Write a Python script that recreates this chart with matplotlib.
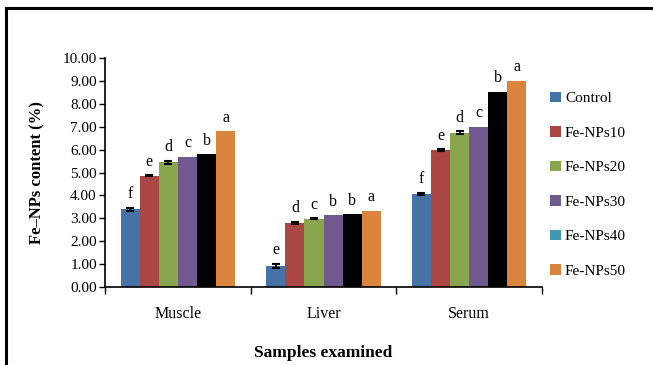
import matplotlib
matplotlib.use("Agg")
import numpy as np
import matplotlib.pyplot as plt
from matplotlib.patches import Patch
from matplotlib.lines import Line2D

samples = ["Muscle", "Liver", "Serum"]
series = ["Control", "Fe-NPs10", "Fe-NPs20", "Fe-NPs30", "Fe-NPs40", "Fe-NPs50"]
control = [3.40, 0.92, 4.07]
fe10 = [4.86, 2.80, 5.99]
fe20 = [5.45, 2.99, 6.75]
fe30 = [5.70, 3.13, 7.01]
fe40 = [5.81, 3.17, 8.54]
fe50 = [6.82, 3.33, 9.01]
errors = [
    [0.06, 0.09, 0.05],
    [0.02, 0.05, 0.04],
    [0.06, 0.02, 0.06],
    [0, 0, 0],
    [0, 0, 0],
    [0, 0, 0],
]
letters = [
    ["f", "e", "f"],
    ["e", "d", "e"],
    ["d", "c", "d"],
    ["c", "b", "c"],
    ["b", "b", "b"],
    ["a", "a", "a"],
]
values = [control, fe10, fe20, fe30, fe40, fe50]

bar_colors = ["#4572A7", "#AA4643", "#89A54E", "#71588F", "#000000", "#DB843D"]
legend_colors = ["#4572A7", "#AA4643", "#89A54E", "#71588F", "#4198AF", "#DB843D"]

plt.rcParams["font.family"] = ["Liberation Serif", "DejaVu Serif"]

fig = plt.figure(figsize=(6.53, 3.65), dpi=100)
ax = fig.add_axes([0.161, 0.214, 0.669, 0.626])

x = np.arange(len(samples))
w = 0.131
for i, vals in enumerate(values):
    pos = x + (i - 2.5) * w
    ax.bar(pos, vals, w, color=bar_colors[i], zorder=2)
    if any(errors[i]):
        ax.errorbar(pos, vals, yerr=errors[i], fmt="none", ecolor="black",
                    elinewidth=1.2, capsize=3, capthick=1.5, zorder=3)
    for p, v, e, t in zip(pos, vals, errors[i], letters[i]):
        ax.annotate(t, (p, v + e), xytext=(0, 4), textcoords="offset points",
                    ha="center", va="bottom", fontsize=11.5)

ax.set_xlim(-0.5, 2.5)
ax.set_ylim(0, 10)
ax.set_yticks(np.arange(0, 11, 1))
ax.set_yticklabels([f"{v:.2f}" for v in range(11)], fontsize=11)
ax.set_xticks(x)
ax.set_xticklabels(samples, fontsize=11.5)
ax.set_xticks([-0.5, 0.5, 1.5, 2.5], minor=True)
ax.tick_params(axis="x", which="major", length=0, pad=14)
ax.tick_params(axis="x", which="minor", length=5, width=1, direction="out")
ax.tick_params(axis="y", length=4, width=1, direction="out", pad=2)
for s in ["top", "right"]:
    ax.spines[s].set_visible(False)
for s in ["left", "bottom"]:
    ax.spines[s].set_linewidth(1.2)

ax.set_ylabel("Fe\u2013NPs content (%)", fontsize=12, fontweight="bold", labelpad=12)
ax.set_xlabel("Samples examined", fontsize=12.5, fontweight="bold", labelpad=16)

handles = [Patch(facecolor=c, edgecolor="none") for c in legend_colors]
fig.legend(handles, series, loc="upper left", bbox_to_anchor=(0.843, 0.749),
           frameon=False, fontsize=11, handlelength=0.7, handleheight=0.7,
           handletextpad=0.25, labelspacing=1.36, borderpad=0, borderaxespad=0)

# outer frame (top and left edges only)
fig.add_artist(Line2D([0.009, 0.009], [0, 0.978], color="black", lw=2.2,
                      transform=fig.transFigure))
fig.add_artist(Line2D([0.009, 1.0], [0.978, 0.978], color="black", lw=2.2,
                      transform=fig.transFigure))

fig.savefig("out.png", dpi=100)
